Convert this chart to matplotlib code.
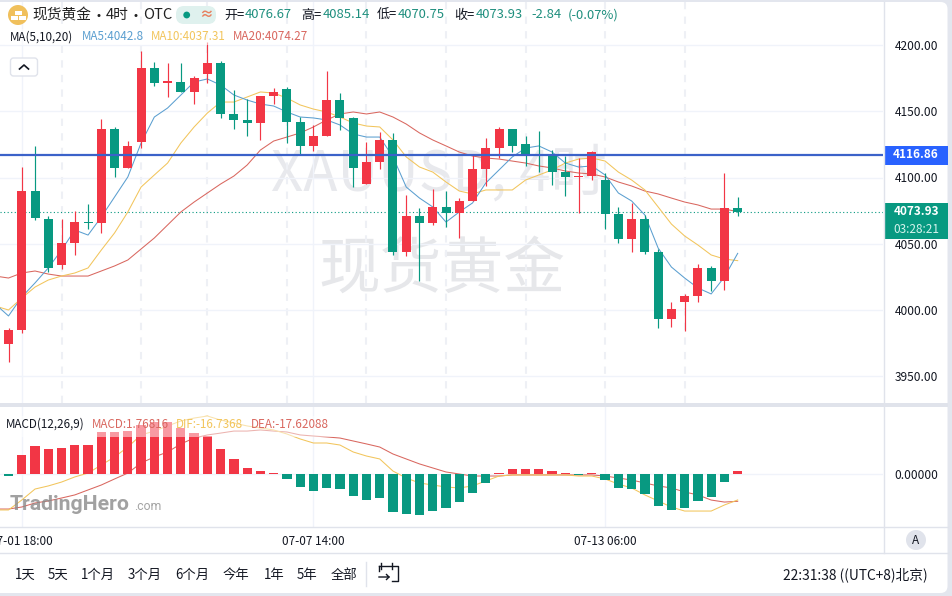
import matplotlib
matplotlib.use("Agg")
import matplotlib.pyplot as plt
from matplotlib.patches import Rectangle, Circle, FancyBboxPatch
import numpy as np

plt.rcParams['font.family'] = ['Noto Sans CJK SC', 'DejaVu Sans']

open_p = [3974.5,3985,4089.8,4068.7,4034,4050.6,4066.8,4065.7,4136.6,4107.2,4126.8,4182.6,4171.6,4172,4164.5,4178,
          4186.3,4147.9,4143.4,4141.1,4161.5,4166.7,4141.8,4123.8,4131.3,4158.4,4144.9,4095.1,4111.7,4128.3,4043.8,4071,
          4065.7,4077.8,4073.2,4082.3,4106.4,4122.2,4136.6,4125.3,4118,4117.7,4104.1,4100.7,4101.1,4098.1,4072.5,4053.6,
          4068.7,4043.8,3993.3,4006.1,4010.7,4031.8,4022,4076.67]
high_p = [3986.5,4107.9,4123.8,4071,4068.7,4074.7,4080,4144.1,4138.1,4127.5,4195.4,4187.1,4186.3,4186.3,4176.5,4202.2,
          4187.8,4166,4159.2,4161.5,4167.5,4168.2,4145.6,4139.6,4180.3,4163.7,4145.6,4126.8,4134.3,4133.6,4086.8,4077,
          4091.3,4089.8,4084.5,4117,4129.8,4138.1,4136.6,4131.3,4135.1,4120.7,4116.2,4114.7,4120,4103.4,4077.8,4080.8,
          4071.7,4046.1,4006.1,4012.2,4034.8,4033.3,4103.4,4085.14]
low_p = [3961.1,3982.8,4068,4028.7,4031,4041.6,4061.2,4058.2,4100.4,4107.2,4122.2,4169,4160.7,4164.5,4155.4,4171.3,
         4144.9,4136.6,4131.3,4128.3,4155.4,4126,4117,4120,4131.3,4135.8,4092.8,4095.1,4106.4,4041.6,4040.8,4022,
         4064.2,4062.7,4054.4,4082.3,4093.6,4114.7,4119.2,4108.7,4104.1,4094.3,4086.1,4073.2,4098.1,4061.2,4050.6,4043.8,
         4042.3,3986.5,3987.3,3984.3,4006.1,4014.4,4015.2,4070.75]
close_p = [3985,4089.8,4069.5,4031.8,4050.6,4066.4,4066,4136.6,4107.2,4123.8,4182.6,4171.3,4172.4,4164.5,4175,4186.3,
           4147.9,4143.4,4141.1,4161.5,4164.5,4141.8,4123.8,4131.3,4158.4,4144.9,4107.2,4111.7,4128.3,4043.8,4071,4065.7,
           4077.8,4073.2,4082.3,4106.4,4122.2,4136.6,4123.8,4117.7,4117.2,4104.1,4100.4,4101.5,4119.2,4072.5,4053.6,4068.7,
           4043.8,3993.3,4000.8,4010.7,4031.8,4022,4077,4073.93]

# moving averages start one bar before the first candle (off screen)
ma5 = [4004.6,3995.6,4009.9,4020.5,4031.8,4045.3,4060.4,4056.6,4070.2,4085.3,4100.4,4126,4145.6,4152.4,4162.2,4172,4174.3,
       4169.7,4162.2,4158.4,4155.4,4153.9,4149.4,4145.6,4144.9,4143.4,4139.6,4132.8,4130.5,4130.5,4115.5,4092.8,4084.5,
       4077.8,4066.4,4074,4080.8,4095.9,4105.7,4115.5,4122.2,4123.8,4119.2,4110.9,4107.9,4108.7,4101.9,4088.3,4082.3,
       4071.7,4046.8,4032.5,4024.2,4016.7,4012.2,4025,4042.8]
ma10 = [4003.1,4000.1,4009.1,4017.4,4022.7,4025.7,4028,4031.8,4045.3,4058.2,4074,4092.8,4101.9,4110.9,4126,4138.1,4148.6,
        4156.9,4156.9,4160.7,4164.5,4163.7,4159.9,4154.7,4151.6,4149.4,4145.6,4141.1,4138.8,4138.1,4128.3,4115.5,4107.9,
        4104.1,4096.6,4089.8,4087.6,4090.6,4090.6,4090.6,4098.1,4101.9,4105.7,4110.9,4113.9,4114.7,4112.4,4104.1,4098.1,
        4090.6,4077.8,4064.9,4055.9,4049.1,4041.6,4038.5,4037.31]
ma20 = [4025.7,4024.2,4028,4029.5,4027.2,4025.7,4025.7,4025.7,4029.5,4033.3,4037.8,4046.1,4054.4,4064.2,4074,4081.5,4088.3,
        4095.1,4101.1,4109.4,4120.7,4127.5,4130.5,4133.6,4138.1,4143.4,4147.9,4149.4,4147.9,4149.4,4145.6,4140.3,4133.6,
        4128.3,4123.8,4119.2,4116.2,4114.7,4113.9,4112.4,4110.9,4108.7,4107.2,4104.9,4103.4,4102.6,4100.4,4096.6,4093.6,
        4089.8,4087.6,4084.5,4081.5,4079.3,4076.2,4076.2,4074.27]

macd_hist = [-1,12.3,18.1,16.1,16.8,18.7,18.7,27.1,27.1,27.7,31.6,33.5,33.5,29.7,26.5,24.5,16.1,9.7,3.9,1.9,0.6,-3.2,-8.4,-11,
             -9,-9.7,-14.2,-16.8,-15.5,-24.5,-25.8,-26.5,-23.9,-21.9,-18.1,-12.3,-5.8,0.6,3.2,3.2,3.2,1.9,0.5,-0.4,0.6,-3.9,
             -9,-9.7,-12.9,-20.6,-23.2,-21.9,-17.4,-14.8,-5.2,1.77]
dif = [-23.2,-23.2,-16.8,-9.7,-7.7,-5.2,-1.9,0.6,5.8,11,17.4,25.2,27.7,31,34.2,36.1,37.4,34.8,32.9,31,29.7,28.4,25.8,22.6,20,20,
       18.7,14.2,11.6,9.7,1.9,-2.6,-5.8,-7.1,-8.4,-9,-7.7,-4.5,-1.3,-0.6,-0.6,-0.6,-0.6,-0.6,-1.3,-1.3,-3.2,-6.5,-9,-13.5,
       -17.4,-21.3,-23.9,-23.9,-23.9,-20,-16.74]
dea = [-22.6,-22.6,-21.3,-18.7,-17.4,-15.5,-13.5,-10.3,-7.1,-3.2,0.6,7.1,11,14.2,19.4,23.2,25.2,26.4,27.7,27.7,28.4,27.7,27.1,
       25.2,24.5,23.9,23.2,21.3,19.4,17.4,12.9,9.7,6.5,3.9,1.3,0,-1.3,-1.3,-1.3,-0.6,-0.6,-0.6,-0.6,-0.6,-0.6,-0.6,-1.3,-2.6,
       -3.9,-5.8,-7.7,-9,-11.6,-13.5,-16.8,-18.1,-17.62]

price_ticks = [3950, 4000, 4050, 4100, 4150, 4200]
alert_price = 4116.86
last_price = 4073.93
dashed_bars = [4, 10, 15, 21, 27, 33, 39, 45, 51]
time_bars = [1, 23, 45]
time_labels = ["07-01 18:00", "07-07 14:00", "07-13 06:00"]
range_labels = ["1天", "5天", "1个月", "3个月", "6个月", "今年", "1年", "5年", "全部"]
range_x = [25, 58, 98, 145, 192.5, 236, 274, 307, 344]

RED = "#f23645"
GREEN = "#089981"
GRID = "#f0f3fa"
BORDER = "#e0e3eb"
TEXT = "#131722"
C5 = "#5b9fd0"
C10 = "#f2c55c"
C20 = "#d9675f"
TEAL = "#1f8f7e"

W, H = 952, 596
fig = plt.figure(figsize=(W/100, H/100), dpi=100, facecolor="#e3e6ee")


def px_axes(top, bottom, left=0, right=883, **kw):
    return fig.add_axes([left/W, 1-bottom/H, (right-left)/W, (bottom-top)/H], **kw)


# background layer, pixel coordinates
bg = fig.add_axes([0, 0, 1, 1], zorder=0)
bg.set_xlim(0, W)
bg.set_ylim(H, 0)
bg.axis("off")
bg.add_patch(FancyBboxPatch((-20, 2), 967.5, 591, boxstyle="round,pad=0,rounding_size=7", fc="white", ec="none"))
bg.text(439, 175, "XAUUSD, 4时", fontsize=40.5, color="#e8e9ed", ha="center", va="center")
bg.text(442, 270, "现货黄金", fontsize=44.5, color="#e6e7ea", ha="center", va="center")

# price panel
ax = px_axes(2, 403, zorder=1)
ax.patch.set_alpha(0)
x0 = -8.5/13.258
ax.set_xlim(x0, x0+883/13.258)
ax.set_ylim(4100-225.5*0.754, 4100+175.5*0.754)
for s in ax.spines.values():
    s.set_visible(False)
ax.set_yticks(price_ticks)
ax.set_yticklabels(["%.2f" % p for p in price_ticks], fontsize=8.6, color=TEXT)
ax.yaxis.tick_right()
ax.tick_params(axis="y", length=0, pad=8.5)
ax.set_xticks([])
ax.set_axisbelow(True)
ax.yaxis.grid(True, color=GRID, lw=1)
for b in dashed_bars:
    ax.axvline(b, color="#eef0f5", lw=1.5, ls=(0, (3.5, 3.5)), zorder=0.5)
for b in time_bars[:2]:
    ax.axvline(b, color=GRID, lw=1, zorder=0.5)

bars = np.arange(len(open_p))
colors = [RED if c >= o else GREEN for o, c in zip(open_p, close_p)]
ax.vlines(bars, low_p, high_p, colors=colors, lw=0.85, zorder=4)
ax.bar(bars, np.abs(np.array(close_p)-np.array(open_p)), bottom=np.minimum(open_p, close_p),
       width=0.68, color=colors, lw=0, zorder=4)

line_x = np.arange(-1, 56)
ax.plot(line_x, ma20, color=C20, lw=0.75, zorder=3)
ax.plot(line_x, ma10, color=C10, lw=0.75, zorder=3)
ax.plot(line_x, ma5, color=C5, lw=0.75, zorder=3)
ax.axhline(alert_price, color="#3b62c9", lw=1.6, zorder=5)
ax.axhline(last_price, color=GREEN, lw=0.8, ls=(0, (1, 2.2)), zorder=2)

# macd panel
ax2 = px_axes(407, 527, zorder=1)
ax2.patch.set_alpha(0)
ax2.set_xlim(ax.get_xlim())
ax2.set_ylim(-53/1.55, 67/1.55)
for s in ax2.spines.values():
    s.set_visible(False)
ax2.set_yticks([0])
ax2.set_yticklabels(["0.00000"], fontsize=8.6, color=TEXT)
ax2.yaxis.tick_right()
ax2.tick_params(axis="y", length=0, pad=8.5)
ax2.set_xticks(time_bars)
ax2.set_xticklabels(time_labels, fontsize=8.5, color=TEXT)
ax2.tick_params(axis="x", length=0, pad=5.5)
ax2.set_axisbelow(True)
ax2.yaxis.grid(True, color=GRID, lw=1)
ax2.xaxis.grid(True, color=GRID, lw=1)
hist_colors = [RED if v >= 0 else GREEN for v in macd_hist]
ax2.plot(line_x, dea, color=C20, lw=0.75, zorder=3)
ax2.plot(line_x, dif, color=C10, lw=0.75, zorder=3)
ax2.bar(bars, macd_hist, width=0.7, color=hist_colors, lw=0, zorder=4)

# chrome on top, pixel coordinates
ui = fig.add_axes([0, 0, 1, 1], zorder=5)
ui.patch.set_alpha(0)
ui.set_xlim(0, W)
ui.set_ylim(H, 0)
ui.axis("off")


def txt(x, y, s, size=8.5, color=TEXT, ha="left", **kw):
    ui.text(x, y, s, fontsize=size, color=color, ha=ha, va="center", **kw)


# separators
ui.add_patch(Rectangle((0, 403), 948, 4, fc=BORDER, ec="none"))
ui.plot([883.5, 883.5], [2, 553], color=BORDER, lw=1)
ui.plot([0, 948], [527, 527], color=BORDER, lw=1)
ui.plot([0, 948], [553, 553], color=BORDER, lw=1)
ui.plot([365.5, 365.5], [562, 586], color=BORDER, lw=1)

# header
ui.add_patch(Circle((18, 15), 10, fc="#f0c05c", ec="none"))
for bx, by in [(15, 10.5), (11, 15.5), (19, 15.5)]:
    ui.add_patch(Rectangle((bx, by), 6.5, 4, fc="white", ec="none"))
for x, s in [(32, "现货黄金"), (106, "4时"), (143, "OTC")]:
    txt(x, 15, s, size=10.6, color="#222")
ui.add_patch(Circle((99, 15.5), 1.5, fc="#222", ec="none"))
ui.add_patch(Circle((136, 15.5), 1.5, fc="#222", ec="none"))
ui.add_patch(FancyBboxPatch((176, 6), 40, 18, boxstyle="round,pad=0,rounding_size=8", fc="#dff1ee", ec="none"))
ui.add_patch(Circle((186.7, 15), 3.4, fc=GREEN, ec="none"))
txt(206.5, 15, "≈", size=10, color="#e8805f", ha="center", fontweight="bold")
for x, s in [(224, "开="), (301, "高="), (377, "低="), (454, "收=")]:
    txt(x, 15, s, size=9.4)
for x, s in [(245, "4076.67"), (323, "4085.14"), (398, "4070.75"), (476, "4073.93"), (531, "-2.84"), (568, "(-0.07%)")]:
    txt(x, 15, s, size=9.4, color=TEAL)

ui.add_patch(Rectangle((5, 29), 305, 16, fc="white", ec="none", alpha=0.55))
txt(10, 37, "MA(5,10,20)", size=8.4)
txt(82, 37, "MA5:4042.8", size=8.4, color=C5)
txt(151, 37, "MA10:4037.31", size=8.4, color=C10)
txt(233, 37, "MA20:4074.27", size=8.4, color=C20)

ui.add_patch(FancyBboxPatch((10.5, 58), 27, 18, boxstyle="round,pad=0,rounding_size=3", fc="white", ec=BORDER, lw=1))
ui.plot([19.5, 24, 28.5], [69, 65, 69], color=TEXT, lw=1.2)

ui.add_patch(Rectangle((4, 416), 332, 21, fc="white", ec="none", alpha=0.5))
txt(6, 424, "MACD(12,26,9)", size=8.4)
txt(92, 424, "MACD:1.76816", size=8.4, color=C20)
txt(176, 424, "DIF:-16.7368", size=8.4, color=C10)
txt(251, 424, "DEA:-17.62088", size=8.4, color=C20)

# price labels
ui.add_patch(Rectangle((884, 146), 64, 19, fc="#2962ff", ec="none"))
txt(916, 155, "4116.86", color="white", ha="center", fontweight="bold")
ui.add_patch(Rectangle((884, 203), 64, 36, fc=GREEN, ec="none"))
txt(916, 211.5, "4073.93", color="white", ha="center", fontweight="bold")
txt(916, 229.5, "03:28:21", color="#d5f3ec", ha="center")

ui.add_patch(Circle((916, 540), 10, fc=BORDER, ec="none"))
txt(916, 540, "A", size=8.5, ha="center")

# logo
txt(10, 504, "TradingHero", size=15.3, color="#8a8a8a", fontfamily="Roboto", fontweight="bold", alpha=0.8)
txt(134, 506, ".com", size=8.8, color="#9a9a9a", fontfamily="Roboto", alpha=0.9)

# range bar
for x, s in zip(range_x, range_labels):
    txt(x, 575, s, size=9.6, ha="center")
ui.plot([379, 397.5, 397.5, 392], [566, 566, 581, 581], color=TEXT, lw=1)
ui.plot([381, 381], [563, 569], color=TEXT, lw=1)
ui.plot([392, 392], [563, 569], color=TEXT, lw=1)
ui.plot([379, 379], [566, 571], color=TEXT, lw=1)
ui.plot([379, 389, 386.5], [577, 577, 574.5], color=TEXT, lw=1)
ui.plot([389, 386.5], [577, 579.5], color=TEXT, lw=1)
txt(783, 575, "22:31:38 ((UTC+8)北京)", size=9.9)

fig.savefig("out.png", dpi=100, facecolor=fig.get_facecolor())
